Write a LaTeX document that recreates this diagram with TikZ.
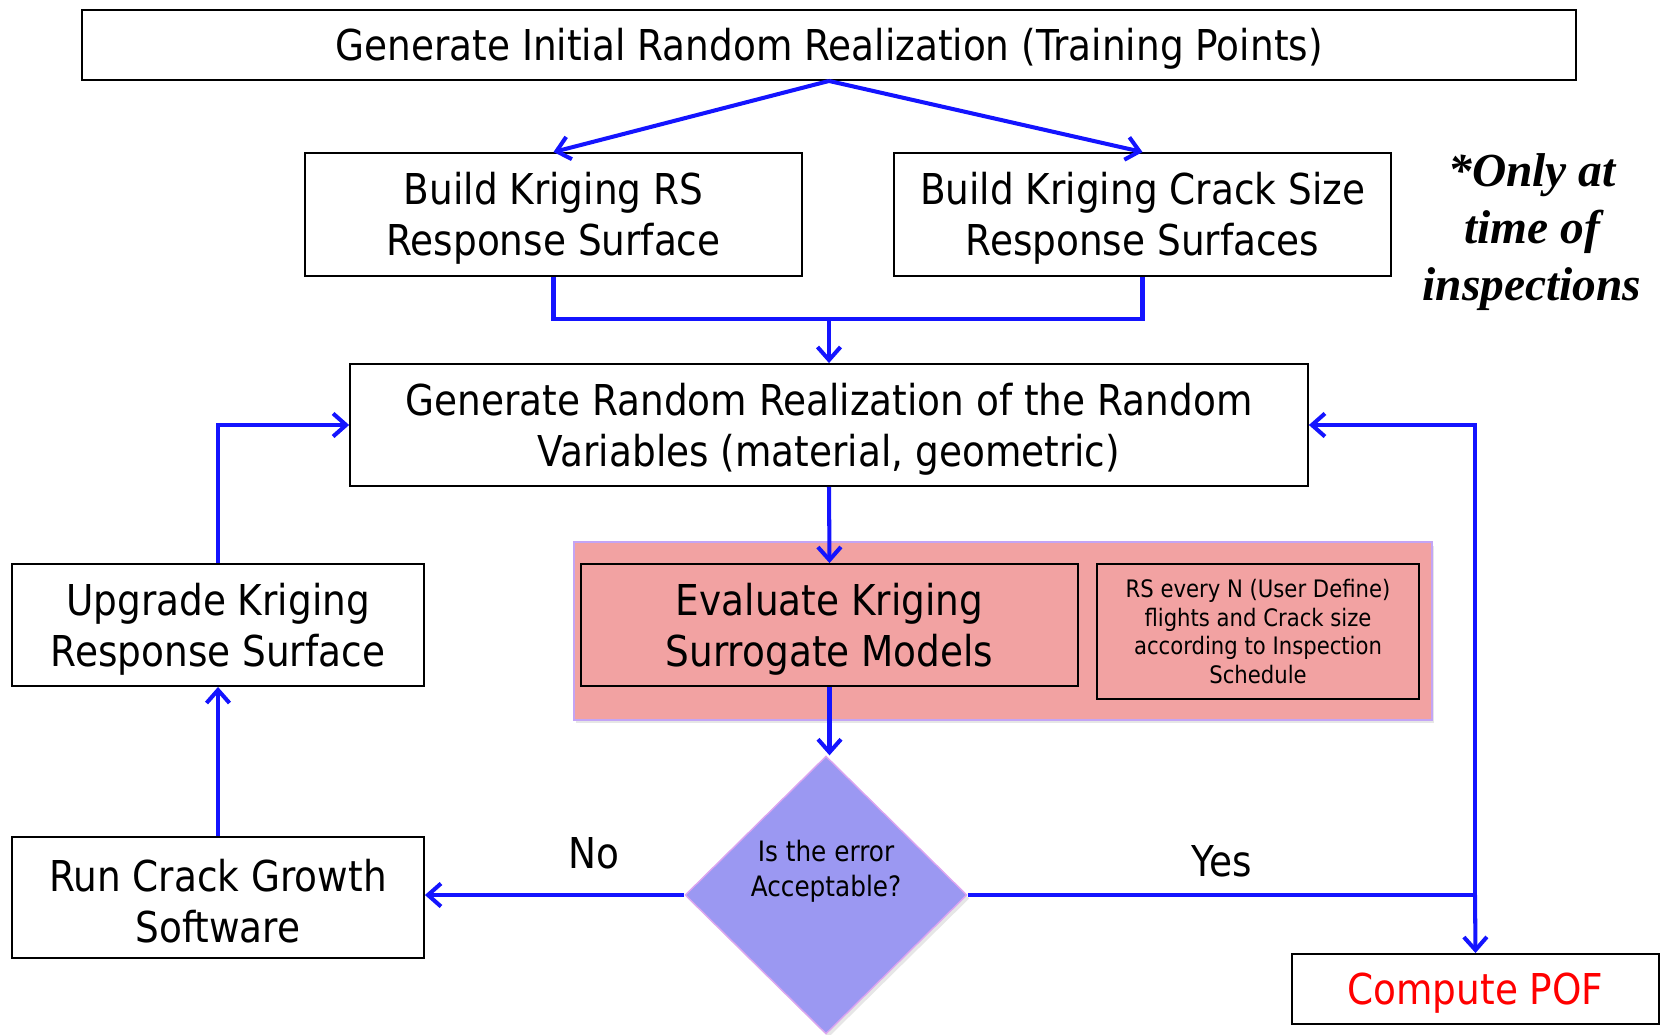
\documentclass[tikz,border=0pt]{standalone}
\usepackage{fontspec}
\setmainfont{DejaVu Sans}[FakeStretch=0.88]
\newfontfamily\notefont{Liberation Serif}
\usetikzlibrary{arrows.meta,shapes.geometric,shadows}
\definecolor{flowblue}{RGB}{20,20,255}
\definecolor{surrpink}{RGB}{242,162,162}
\definecolor{surredge}{RGB}{195,165,245}
\definecolor{decfill}{RGB}{155,152,242}
\definecolor{decedge}{RGB}{220,165,240}
\newcommand{\tallrow}{\rule{0pt}{23pt}}

\begin{document}
\begin{tikzpicture}[x=0.02cm, y=-0.02cm,
	box/.style={draw, line width=1.1pt, rectangle, inner sep=0pt, align=center, font=\fontsize{24.2}{29}\selectfont},
	smallbox/.style={draw, line width=1.1pt, rectangle, inner sep=0pt, align=center, font=\fontsize{13.7}{16.3}\selectfont},
	decision/.style={diamond, draw=decedge, fill=decfill, line width=0.8pt, inner sep=0pt, minimum width=5.64cm, minimum height=5.56cm, drop shadow={shadow xshift=0.05cm, shadow yshift=-0.07cm, opacity=0.2}},
	dectext/.style={align=center, inner sep=0pt, font=\fontsize{16}{19.8}\selectfont},
	lbl/.style={inner sep=0pt, font=\fontsize{24.2}{29}\selectfont},
	note/.style={align=center, inner sep=0pt, font=\notefont\bfseries\itshape\fontsize{27}{32.4}\selectfont},
	flow/.style={draw=flowblue, line width=2.3pt, -{Straight Barb[length=0.26cm,width=0.46cm]}},
	line/.style={draw=flowblue, line width=2.3pt}]

	\useasboundingbox (0,0) rectangle (1665,1034);

	\node [box, minimum width=29.88cm, minimum height=1.4cm] (init) at (829,45)
		{\tallrow Generate Initial Random Realization (Training Points)};

	\node [box, minimum width=9.94cm, minimum height=2.46cm] (rsbuild) at (553.5,214.5)
		{\tallrow Build Kriging RS\\Response Surface};
	\node [box, minimum width=9.94cm, minimum height=2.46cm] (crackbuild) at (1142.5,214.5)
		{\tallrow Build Kriging Crack Size\\Response Surfaces};

	\node [note] (insp) at (1532,232) {*Only at\\time of\\inspections};

	\node [box, minimum width=19.16cm, minimum height=2.44cm] (genrv) at (829,425)
		{\tallrow Generate Random Realization of the Random\\Variables (material, geometric)};

	\node [draw=surredge, fill=surrpink, line width=0.8pt, minimum width=17.16cm, minimum height=3.56cm,
		drop shadow={shadow xshift=0.04cm, shadow yshift=-0.07cm, opacity=0.2}] (surr) at (1003,631) {};
	\node [box, fill=surrpink, minimum width=9.94cm, minimum height=2.44cm] (evalk) at (829.5,625)
		{\tallrow Evaluate Kriging\\Surrogate Models};
	\node [smallbox, fill=surrpink, minimum width=6.44cm, minimum height=2.7cm] (sched) at (1258,631.5)
		{RS every N (User Define)\\flights and Crack size\\according to Inspection\\Schedule};

	\node [decision] (errchk) at (826,895) {};
	\node [dectext] (errtext) at ([yshift=0.47cm]errchk.center) {Is the error\\Acceptable?};

	\node [box, minimum width=8.24cm, minimum height=2.44cm] (upgrade) at (218,625)
		{\tallrow Upgrade Kriging\\Response Surface};
	\node [box, minimum width=8.24cm, minimum height=2.42cm] (rungrowth) at (218,897.5)
		{\tallrow Run Crack Growth\\Software};

	\node [box, text=red, minimum width=7.34cm, minimum height=1.4cm] (pof) at (1475.5,989)
		{\tallrow Compute POF};

	\coordinate (mrg) at (829,319);
	\coordinate (jn) at (1475,895);

	\draw[flow] (init.south) -- (rsbuild.north);
	\draw[flow] (init.south) -- (crackbuild.north);
	\draw[line] (rsbuild.south) |- (mrg) -| (crackbuild.south);
	\draw[flow] (mrg) -- (genrv.north);
	\draw[flow] (genrv.south) -- (evalk.north);
	\draw[flow] (evalk.south) -- (evalk.south |- errchk.north);

	\draw[flow] (errchk.west) -- node [lbl, pos=0.35, yshift=0.84cm] (nolbl) {No} (errchk.west -| rungrowth.east);
	\draw[line] (errchk.east) -- node [lbl, pos=0.5, yshift=0.68cm] (yeslbl) {Yes} (jn);
	\draw[flow] (jn) -- (pof.north);
	\draw[flow] (jn) |- (genrv.east);

	\draw[flow] (rungrowth.north) -- (upgrade.south);
	\draw[flow] (upgrade.north) |- (genrv.west);

\end{tikzpicture}
\end{document}
